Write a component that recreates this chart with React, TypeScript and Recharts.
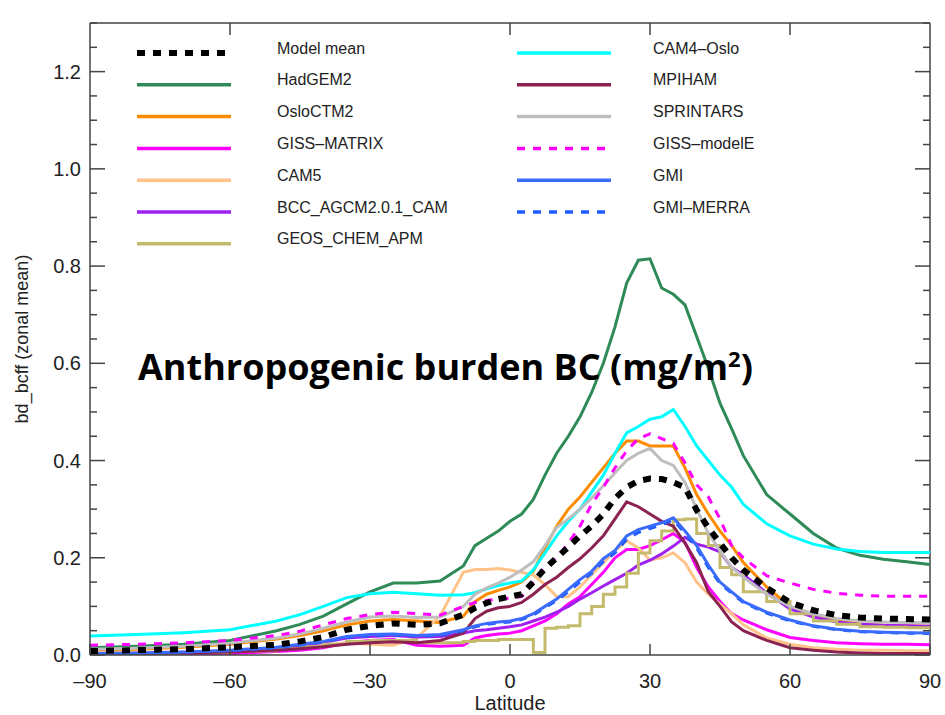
import React from "react"
import { LineChart, Line, XAxis, YAxis, ReferenceLine } from "recharts"

// latitude grid (degrees)
const lats = [
  -90, -80, -70, -60, -50, -45, -40, -35, -30, -25, -20, -15, -10,
  -7.5, -5, -2.5, 0, 2.5, 5, 7.5, 10, 12.5, 15, 17.5, 20, 22.5, 25, 27.5, 30,
  32.5, 35, 37.5, 40, 42.5, 45, 47.5, 50,
  55, 60, 65, 70, 75, 80, 85, 90,
]

const modelMean = [
  0.008, 0.01, 0.012, 0.016, 0.021, 0.028, 0.037, 0.052, 0.06, 0.065, 0.062, 0.065, 0.083,
  0.097, 0.107, 0.115, 0.12, 0.125, 0.15, 0.178, 0.2, 0.222, 0.245, 0.265, 0.29, 0.322, 0.345, 0.358, 0.363,
  0.362, 0.355, 0.345, 0.298, 0.262, 0.23, 0.2, 0.175,
  0.138, 0.108, 0.092, 0.082, 0.077, 0.075, 0.074, 0.073,
]
const hadgem2 = [
  0.015, 0.018, 0.022, 0.03, 0.05, 0.063, 0.08, 0.105, 0.13, 0.148, 0.148, 0.152, 0.183,
  0.225, 0.24, 0.255, 0.275, 0.29, 0.32, 0.37, 0.415, 0.45, 0.49, 0.54, 0.6, 0.675, 0.765, 0.812, 0.815,
  0.755, 0.742, 0.72, 0.655, 0.59, 0.518, 0.465, 0.41,
  0.33, 0.29, 0.25, 0.22, 0.205, 0.197, 0.192, 0.186,
]
const osloCtm2 = [
  0.01, 0.012, 0.016, 0.022, 0.033, 0.04, 0.05, 0.062, 0.07, 0.073, 0.07, 0.067, 0.08,
  0.11, 0.125, 0.133, 0.14, 0.15, 0.172, 0.22, 0.265, 0.3, 0.325, 0.355, 0.385, 0.415, 0.44, 0.44, 0.43,
  0.43, 0.43, 0.385, 0.33, 0.29, 0.255, 0.225, 0.19,
  0.14, 0.1, 0.082, 0.07, 0.064, 0.061, 0.06, 0.059,
]
const gissMatrix = [
  0, 0, 0.001, 0.003, 0.007, 0.01, 0.015, 0.025, 0.03, 0.032, 0.02, 0.018, 0.02,
  0.035, 0.04, 0.043, 0.045, 0.05, 0.06, 0.07, 0.085, 0.105, 0.12, 0.145, 0.17, 0.2, 0.217, 0.217, 0.225,
  0.237, 0.25, 0.232, 0.18, 0.14, 0.11, 0.085, 0.072,
  0.052, 0.036, 0.03, 0.025, 0.023, 0.022, 0.022, 0.021,
]
const cam5 = [
  0.005, 0.005, 0.006, 0.008, 0.012, 0.015, 0.02, 0.025, 0.022, 0.02, 0.035, 0.08, 0.17,
  0.176, 0.176, 0.178, 0.175, 0.17, 0.165, 0.145, 0.12, 0.12, 0.14, 0.165, 0.19, 0.215, 0.235, 0.22, 0.195,
  0.2, 0.21, 0.19, 0.15, 0.125, 0.105, 0.085, 0.062,
  0.035, 0.022, 0.015, 0.012, 0.01, 0.01, 0.009, 0.009,
]
const bcc = [
  0.002, 0.003, 0.005, 0.008, 0.014, 0.019, 0.026, 0.035, 0.038, 0.04, 0.037, 0.038, 0.045,
  0.05, 0.052, 0.055, 0.058, 0.062, 0.07, 0.078, 0.088, 0.1, 0.115, 0.128, 0.142, 0.155, 0.168, 0.185, 0.195,
  0.208, 0.224, 0.242, 0.228, 0.222, 0.212, 0.18, 0.165,
  0.128, 0.095, 0.078, 0.068, 0.063, 0.061, 0.06, 0.059,
]
const geosChem = [
  0.002, 0.003, 0.005, 0.008, 0.013, 0.017, 0.022, 0.028, 0.03, 0.03, 0.025, 0.025, 0.028,
  0.03, 0.03, 0.032, 0.032, 0.032, 0.005, 0.055, 0.057, 0.06, 0.085, 0.1, 0.125, 0.14, 0.168, 0.21, 0.235,
  0.255, 0.278, 0.28, 0.25, 0.225, 0.18, 0.165, 0.13,
  0.11, 0.085, 0.07, 0.063, 0.058, 0.057, 0.056, 0.056,
]
const cam4Oslo = [
  0.039, 0.042, 0.046, 0.052, 0.07, 0.083, 0.1, 0.118, 0.126, 0.129, 0.126, 0.123, 0.124,
  0.128, 0.136, 0.143, 0.148, 0.152, 0.175, 0.21, 0.245, 0.275, 0.3, 0.335, 0.37, 0.415, 0.457, 0.47, 0.485,
  0.49, 0.505, 0.47, 0.43, 0.4, 0.37, 0.345, 0.31,
  0.27, 0.245, 0.228, 0.218, 0.213, 0.211, 0.211, 0.211,
]
const mpiham = [
  0.003, 0.003, 0.004, 0.006, 0.01, 0.013, 0.017, 0.022, 0.025, 0.027, 0.025, 0.03, 0.045,
  0.075, 0.09, 0.097, 0.1, 0.108, 0.125, 0.145, 0.16, 0.18, 0.198, 0.22, 0.245, 0.28, 0.315, 0.305, 0.29,
  0.275, 0.265, 0.23, 0.19, 0.13, 0.1, 0.068, 0.05,
  0.03, 0.015, 0.01, 0.006, 0.004, 0.003, 0.003, 0.003,
]
const sprintars = [
  0.012, 0.014, 0.018, 0.024, 0.035, 0.043, 0.055, 0.068, 0.078, 0.08, 0.077, 0.078, 0.1,
  0.125, 0.138, 0.148, 0.16, 0.175, 0.192, 0.225, 0.262, 0.28, 0.3, 0.323, 0.348, 0.375, 0.4, 0.415, 0.425,
  0.4, 0.39, 0.355, 0.3, 0.25, 0.215, 0.18, 0.16,
  0.125, 0.1, 0.085, 0.075, 0.07, 0.068, 0.067, 0.066,
]
const gissModelE = [
  0.02, 0.022, 0.025, 0.03, 0.04, 0.049, 0.062, 0.075, 0.083, 0.088, 0.085, 0.082, 0.1,
  0.108, 0.112, 0.115, 0.117, 0.12, 0.15, 0.18, 0.2, 0.23, 0.265, 0.31, 0.345, 0.385, 0.42, 0.445, 0.455,
  0.445, 0.435, 0.395, 0.35, 0.325, 0.28, 0.225, 0.2,
  0.163, 0.148, 0.135, 0.127, 0.123, 0.121, 0.121, 0.121,
]
const gmi = [
  0.003, 0.004, 0.006, 0.01, 0.016, 0.022, 0.028, 0.038, 0.042, 0.043, 0.04, 0.042, 0.052,
  0.06, 0.065, 0.068, 0.07, 0.075, 0.085, 0.1, 0.115, 0.135, 0.155, 0.172, 0.198, 0.215, 0.245, 0.258, 0.265,
  0.272, 0.282, 0.255, 0.225, 0.185, 0.15, 0.13, 0.11,
  0.088, 0.072, 0.06, 0.053, 0.049, 0.047, 0.046, 0.045,
]
const gmiMerra = [
  0.003, 0.004, 0.006, 0.009, 0.015, 0.02, 0.027, 0.036, 0.04, 0.041, 0.039, 0.04, 0.05,
  0.058, 0.063, 0.066, 0.068, 0.073, 0.082, 0.097, 0.112, 0.13, 0.15, 0.168, 0.192, 0.21, 0.238, 0.252, 0.26,
  0.268, 0.278, 0.25, 0.22, 0.18, 0.147, 0.127, 0.108,
  0.086, 0.07, 0.059, 0.052, 0.048, 0.046, 0.045, 0.044,
]

const xTicks = [-90, -60, -30, 0, 30, 60, 90]
const xTopTicks = [-60, 0, 30, 60]
const yTicks = [
  0, 0.05, 0.1, 0.15, 0.2, 0.25, 0.3, 0.35, 0.4, 0.45, 0.5, 0.55, 0.6, 0.65,
  0.7, 0.75, 0.8, 0.85, 0.9, 0.95, 1.0, 1.05, 1.1, 1.15, 1.2, 1.25, 1.3,
]

type Series = { key: string; name: string; values: number[]; color: string; dash?: string; width: number; step?: boolean }

const series: Series[] = [
  { key: "mean", name: "Model mean", values: modelMean, color: "#000000", dash: "8 8", width: 6 },
  { key: "hadgem2", name: "HadGEM2", values: hadgem2, color: "#2e8b57", width: 3 },
  { key: "oslo", name: "OsloCTM2", values: osloCtm2, color: "#ff8c00", width: 3 },
  { key: "gissMatrix", name: "GISS\u2013MATRIX", values: gissMatrix, color: "#ff00ff", width: 3 },
  { key: "cam5", name: "CAM5", values: cam5, color: "#ffc38a", width: 3 },
  { key: "bcc", name: "BCC_AGCM2.0.1_CAM", values: bcc, color: "#a020f0", width: 3 },
  { key: "geos", name: "GEOS_CHEM_APM", values: geosChem, color: "#c3bb6b", width: 3, step: true },
  { key: "cam4", name: "CAM4\u2013Oslo", values: cam4Oslo, color: "#00ffff", width: 3 },
  { key: "mpiham", name: "MPIHAM", values: mpiham, color: "#8b2252", width: 3 },
  { key: "sprintars", name: "SPRINTARS", values: sprintars, color: "#bebebe", width: 3 },
  { key: "gissModelE", name: "GISS\u2013modelE", values: gissModelE, color: "#ff00ff", dash: "8 8", width: 3 },
  { key: "gmi", name: "GMI", values: gmi, color: "#3a6bff", width: 3 },
  { key: "gmiMerra", name: "GMI\u2013MERRA", values: gmiMerra, color: "#1f5cff", dash: "8 8", width: 3 },
]

const legendLeft = ["mean", "hadgem2", "oslo", "gissMatrix", "cam5", "bcc", "geos"]
const legendRight = ["cam4", "mpiham", "sprintars", "gissModelE", "gmi", "gmiMerra"]
const drawOrder = [
  "hadgem2", "oslo", "gissMatrix", "cam5", "bcc", "geos", "cam4", "mpiham",
  "sprintars", "gissModelE", "gmiMerra", "gmi", "mean",
]

const data = lats.map((lat, i) => {
  const row: Record<string, number> = { lat }
  series.forEach((s) => (row[s.key] = s.values[i]))
  return row
})

const FONT = "'Liberation Sans', Arial, Helvetica, sans-serif"
const AXIS = "#444"
const PL = 90
const PR = 930
const PT = 23
const PB = 655

const isMajor = (v: number) => Math.abs(v * 5 - Math.round(v * 5)) < 1e-6
const fmtLat = (v: number) => (v < 0 ? "\u2013" + Math.abs(v) : String(v))

// y ticks: inward on the left and mirrored on the right frame edge
function YTick(props: any) {
  const { y, payload } = props
  const major = isMajor(payload.value)
  const len = major ? 15 : 7
  return (
    <g>
      <line x1={PL} x2={PL + len} y1={y} y2={y} stroke={AXIS} strokeWidth={1.5} />
      <line x1={PR} x2={PR - len} y1={y} y2={y} stroke={AXIS} strokeWidth={1.5} />
      {major && (
        <text x={PL - 9} y={y} textAnchor="end" dominantBaseline="central" fontSize={20} fontFamily={FONT} fill="#222">
          {payload.value.toFixed(1)}
        </text>
      )}
    </g>
  )
}

// x ticks: inward on the bottom, some mirrored on the top frame edge
function XTick(props: any) {
  const { x, payload } = props
  return (
    <g>
      <line x1={x} x2={x} y1={PB} y2={PB - 11} stroke={AXIS} strokeWidth={1.5} />
      {xTopTicks.includes(payload.value) && (
        <line x1={x} x2={x} y1={PT} y2={PT + 12} stroke={AXIS} strokeWidth={1.5} />
      )}
      <text x={x} y={PB + 26} textAnchor="middle" dominantBaseline="central" fontSize={20} fontFamily={FONT} fill="#222">
        {fmtLat(payload.value)}
      </text>
    </g>
  )
}

function LegendOverlay() {
  const byKey = (k: string) => series.find((s) => s.key === k)!
  const col = (keys: string[], lineX: number, textX: number) =>
    keys.map((k, i) => {
      const s = byKey(k)
      const ly = 53 + i * 31.8
      return (
        <g key={k}>
          <line x1={lineX} x2={lineX + 94} y1={ly} y2={ly} stroke={s.color} strokeWidth={s.key === "mean" ? 6 : 3.5} strokeDasharray={s.dash} />
          <text x={textX} y={ly - 5} dominantBaseline="central" fontSize={16} fontFamily={FONT} fill="#222">
            {s.name}
          </text>
        </g>
      )
    })
  return (
    <svg width={945} height={715} style={{ position: "absolute", left: 0, top: 0, pointerEvents: "none" }}>
      {col(legendLeft, 137, 277)}
      {col(legendRight, 517, 653)}
      <text x={138} y={380} fontSize={36} fontWeight="bold" fontFamily="'Open Sans', 'Noto Sans', sans-serif" fill="#000">
        Anthropogenic burden BC (mg/m
        <tspan dy={-13} fontSize={22}>2</tspan>
        <tspan dy={13}>)</tspan>
      </text>
    </svg>
  )
}

export default function App() {
  return (
    <div style={{ position: "absolute", left: 0, top: 0, width: 945, height: 715, background: "#fff" }}>
      <LineChart width={945} height={715} data={data} margin={{ top: PT, right: 945 - PR, bottom: 0, left: 0 }}>
        <XAxis
          dataKey="lat"
          type="number"
          domain={[-90, 90]}
          ticks={xTicks}
          interval={0}
          height={715 - PB}
          tickLine={false}
          tick={<XTick />}
          axisLine={{ stroke: AXIS, strokeWidth: 1.5 }}
          label={{ value: "Latitude", position: "insideBottom", offset: 5, fontSize: 20, fontFamily: FONT, fill: "#222" }}
        />
        <YAxis
          type="number"
          domain={[0, 1.3]}
          ticks={yTicks}
          interval={0}
          width={PL}
          tickLine={false}
          tick={<YTick />}
          axisLine={{ stroke: AXIS, strokeWidth: 1.5 }}
          allowDataOverflow
          label={{
            value: "bd_bcff (zonal mean)",
            angle: -90,
            position: "insideLeft",
            offset: 22,
            style: { textAnchor: "middle", fontSize: 18, fontFamily: FONT, fill: "#222" },
          }}
        />
        {/* top and right edges of the frame */}
        <ReferenceLine y={1.3} stroke={AXIS} strokeWidth={1.5} />
        <ReferenceLine x={90} stroke={AXIS} strokeWidth={1.5} />
        {drawOrder.map((k) => {
          const s = series.find((d) => d.key === k)!
          return (
            <Line
              key={k}
              dataKey={k}
              name={s.name}
              type={s.step ? "stepAfter" : "linear"}
              stroke={s.color}
              strokeWidth={s.width}
              strokeDasharray={s.dash}
              dot={false}
              activeDot={false}
              isAnimationActive={false}
            />
          )
        })}
      </LineChart>
      <LegendOverlay />
    </div>
  )
}
